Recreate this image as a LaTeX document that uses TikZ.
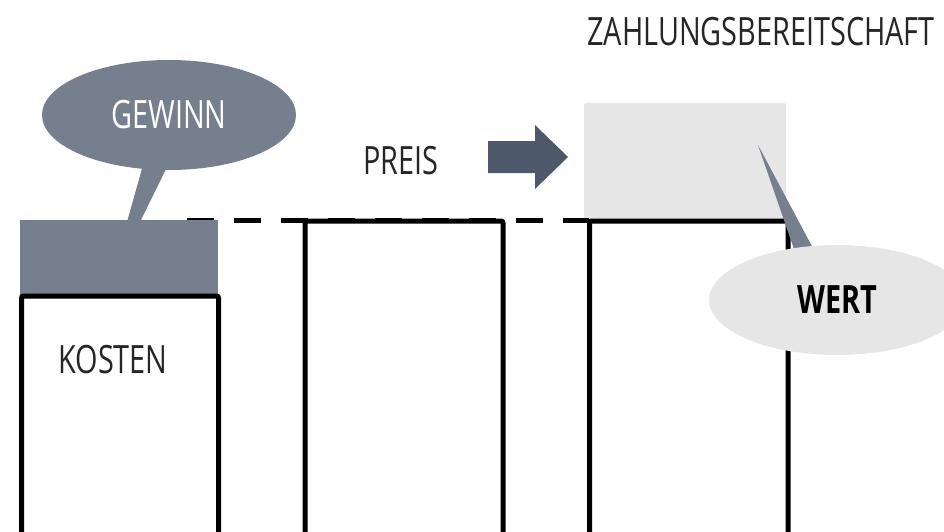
\documentclass[tikz,border=0pt]{standalone}
\usepackage{fontspec}
\setmainfont{Open Sans}[FakeStretch=0.74]
\usetikzlibrary{shapes.geometric}
\definecolor{slate}{HTML}{767F8D}
\definecolor{darkslate}{HTML}{4D596A}
\definecolor{palegray}{HTML}{E6E6E6}
\tikzset{
  colbox/.style={draw=black, line width=5pt, rounded corners=2pt, inner sep=0pt, outer sep=0pt, anchor=north west},
  bubble/.style={ellipse, inner sep=0pt, draw=none},
  label/.style={inner sep=0pt, text=black!85, font=\fontsize{39}{42}\selectfont},
}
\begin{document}
\begin{tikzpicture}[x=1pt, y=-1pt]
\useasboundingbox (0,0) rectangle (944,532);
\clip (0,0) rectangle (944,532);

% willingness-to-pay block above the value column
\node[fill=palegray, rounded corners=2pt, inner sep=0pt, outer sep=0pt, anchor=north west,
      minimum width=202, minimum height=120] (wtp) at (584,103) {};

% price level
\draw[line width=5pt, dash pattern=on 27pt off 20pt] (187,220) -- (589,220);

% profit on top of costs
\node[fill=slate, inner sep=0pt, outer sep=0pt, anchor=north west, minimum width=198, minimum height=76] (gain) at (20,220) {};

% the three columns
\node[colbox, minimum width=197, minimum height=270] (cost) at (21.5,296) {};
\node[colbox, minimum width=198, minimum height=340] (price) at (305,221) {};
\node[colbox, minimum width=198.5, minimum height=340] (value) at (589.5,221) {};

% callout tails
\fill[slate] (143,165) -- (168,165) -- (140,222) -- (127,222) -- cycle;
\fill[slate] (758,145) -- (815,252) -- (795,252) -- cycle;

% callouts
\node[bubble, fill=slate, minimum width=254, minimum height=110] (gewinn) at (169,115) {};
\node[label, text=white] (gewinntext) at (gewinn.center) {GEWINN};
\node[bubble, fill=palegray, minimum width=256, minimum height=110] (wert) at (837,300) {};
\node[label, text=black, font=\fontsize{39}{42}\selectfont\bfseries] (werttext) at (wert.center) {WERT};

% texts
\node[label] (kosten) at (113,360) {KOSTEN};
\node[label] (preis) at (401,161) {PREIS};
\node[label] (zb) at (761,32) {ZAHLUNGSBEREITSCHAFT};

% block arrow toward the willingness-to-pay block
\fill[darkslate] (488,141) -- (535,141) -- (535,125) -- (568,157)
  -- (535,189) -- (535,173) -- (488,173) -- cycle;
\end{tikzpicture}
\end{document}
